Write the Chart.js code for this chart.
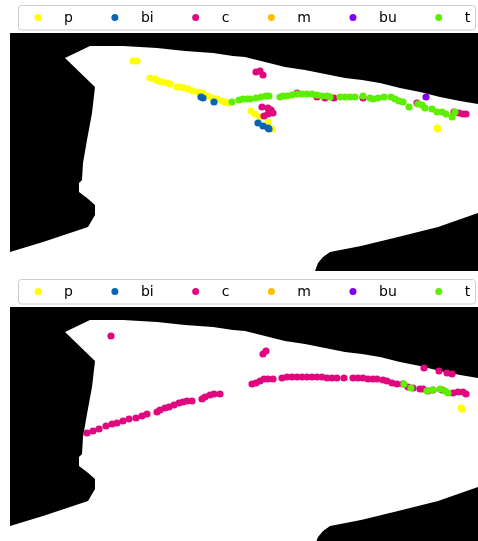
<!DOCTYPE html>
<html>
<head>
<meta charset="utf-8">
<script src="https://cdn.jsdelivr.net/npm/chart.js@4/dist/chart.umd.min.js"></script>
<style>
  html, body { margin: 0; padding: 0; background: #fff; overflow: hidden; }
  canvas { position: absolute; left: 0; }
  #top { top: 0; }
  #bottom { top: 274px; }
</style>
</head>
<body>
<canvas id="top" width="478" height="274"></canvas>
<canvas id="bottom" width="478" height="274"></canvas>
<script>
// series names and colours
const labels = ["p", "bi", "c", "m", "bu", "t"];
const colors = ["#ffff00", "#0a64b4", "#e0087e", "#ffbf00", "#8000f0", "#5cf000"];

// mask outline (image pixel coords, y downwards)
const maskTopLeft = [
  [0, 0], [468, 0], [468, 71], [450, 68], [430, 64], [410, 59], [390, 55], [370, 50],
  [352, 47], [335, 45], [315, 41], [295, 37], [275, 34], [255, 29], [235, 24], [223, 23],
  [203, 20], [175, 18], [147, 15], [113, 13], [80, 13], [55, 25], [85, 54], [82, 80],
  [77, 107], [73, 130], [72, 147], [69, 150], [69, 159], [77, 165], [85, 172], [85, 182],
  [78, 194], [60, 200], [33, 209], [0, 219], [0, 0]
];
const maskBottomRight = [
  [468, 180], [428, 194], [388, 204], [351, 213], [320, 219], [313, 224], [308, 230],
  [305, 238], [468, 238], [468, 180]
];

// top panel points
const topP = [[123, 28], [127, 28], [140, 45], [145, 46], [148, 48], [152, 49], [157, 50],
  [160, 51], [167, 54], [170, 54], [174, 55], [178, 56], [183, 58], [188, 59], [193, 60],
  [198, 63], [202, 65], [207, 66], [212, 68], [215, 69], [218, 70], [241, 78], [245, 81],
  [250, 84], [258, 89], [262, 96], [427, 95], [428, 96]];
const topBi = [[191, 64], [193, 65], [204, 69], [248, 90], [253, 93], [258, 95], [259, 96]];
const topC = [[246, 39], [250, 38], [253, 42], [252, 74], [258, 75], [261, 77], [263, 80],
  [254, 83], [258, 81], [287, 60], [307, 64], [315, 65], [324, 65], [353, 65], [407, 70],
  [444, 79], [449, 80], [453, 81], [456, 81]];
const topM = [];
const topBu = [[416, 64]];
const topT = [[222, 69], [229, 67], [233, 66], [237, 66], [240, 66], [246, 65], [251, 64],
  [256, 63], [259, 63], [270, 64], [273, 63], [277, 63], [282, 62], [287, 61], [292, 61],
  [297, 61], [302, 61], [307, 62], [312, 63], [317, 63], [320, 64], [330, 64], [335, 64],
  [340, 64], [345, 64], [353, 63], [360, 65], [363, 66], [368, 65], [374, 64], [381, 64],
  [385, 66], [389, 68], [393, 69], [399, 74], [408, 71], [412, 72], [415, 75], [422, 76],
  [427, 79], [432, 79], [436, 81], [442, 84], [445, 79]];

// bottom panel points
const botP = [[451, 101], [452, 102]];
const botBi = [];
const botC = [[101, 29],
  [77, 126], [83, 124], [89, 122], [96, 119], [102, 117], [107, 116], [113, 114], [119, 112],
  [126, 111], [132, 109], [137, 107], [147, 105], [150, 103], [155, 101], [159, 100],
  [164, 98], [169, 96], [173, 95], [177, 94], [182, 94], [192, 92], [195, 90], [200, 88],
  [204, 87], [210, 87],
  [253, 47], [256, 44],
  [242, 77], [246, 76], [250, 74], [254, 72], [258, 72], [263, 72], [272, 71], [277, 70],
  [282, 70], [287, 70], [292, 70], [297, 70], [302, 70], [307, 70], [312, 70], [317, 71],
  [322, 71], [327, 71], [334, 71], [343, 71], [348, 71], [353, 71], [358, 72], [363, 72],
  [367, 72], [373, 73], [377, 74], [382, 76], [387, 77], [393, 77], [398, 80], [403, 81],
  [410, 82], [413, 82], [418, 84], [423, 83], [432, 83], [443, 86], [448, 85], [453, 85],
  [456, 87],
  [414, 61], [429, 64], [437, 66], [442, 67]];
const botM = [];
const botBu = [];
const botT = [[394, 77], [401, 81], [417, 84], [423, 83], [430, 82], [435, 84], [438, 86]];

const toXY = (arr) => arr.map(([x, y]) => ({ x: x, y: y }));

// draws the boxed legend above each panel
const legendBox = {
  id: "legendBox",
  afterDraw(chart) {
    const ctx = chart.ctx;
    ctx.save();
    ctx.beginPath();
    ctx.roundRect(18.5, 5.5, 457, 24.5, 3);
    ctx.fillStyle = "rgba(255,255,255,0.8)";
    ctx.fill();
    ctx.strokeStyle = "#cccccc";
    ctx.lineWidth = 1;
    ctx.stroke();
    ctx.font = '14px "DejaVu Sans"';
    ctx.textBaseline = "alphabetic";
    let x = 38;
    chart.data.datasets.forEach((ds) => {
      if (!ds.series) return;
      ctx.beginPath();
      ctx.arc(x, 17.5, 3.5, 0, Math.PI * 2);
      ctx.fillStyle = ds.backgroundColor;
      ctx.fill();
      ctx.fillStyle = "#000";
      ctx.fillText(ds.label, x + 26, 22);
      x += 26 + ctx.measureText(ds.label).width + 42;
    });
    ctx.restore();
  },
};

function makePanel(id, series) {
  const datasets = [
    {
      type: "line", label: "mask1", data: toXY(maskTopLeft), backgroundColor: "#000",
      borderWidth: 0, pointRadius: 0, fill: "shape", tension: 0, order: 10,
    },
    {
      type: "line", label: "mask2", data: toXY(maskBottomRight), backgroundColor: "#000",
      borderWidth: 0, pointRadius: 0, fill: "shape", tension: 0, order: 10,
    },
  ];
  series.forEach((pts, i) => {
    datasets.push({
      series: true,
      label: labels[i],
      data: toXY(pts),
      backgroundColor: colors[i],
      pointRadius: 3.6,
      pointBorderWidth: 0,
      pointHoverRadius: 3.6,
      order: 6 - i,
    });
  });

  new Chart(document.getElementById(id), {
    type: "scatter",
    data: { datasets: datasets },
    options: {
      responsive: false,
      animation: false,
      events: [],
      layout: { autoPadding: false, padding: { left: 10, top: 33, right: 0, bottom: 3 } },
      scales: {
        x: { type: "linear", min: 0, max: 468, display: false },
        y: { type: "linear", min: 0, max: 238, reverse: true, display: false },
      },
      plugins: { legend: { display: false }, tooltip: { enabled: false } },
    },
    plugins: [legendBox],
  });
}

makePanel("top", [topP, topBi, topC, topM, topBu, topT]);
makePanel("bottom", [botP, botBi, botC, botM, botBu, botT]);
</script>
</body>
</html>
